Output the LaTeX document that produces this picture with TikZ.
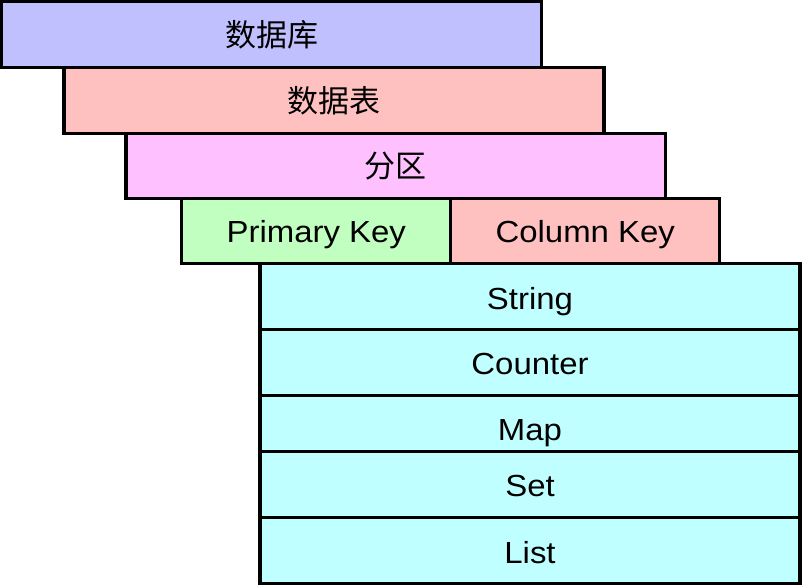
\documentclass[tikz,border=0pt]{standalone}
\usepackage{fontspec}
\setmainfont[FakeStretch=1.08]{Liberation Sans}
\newfontfamily\cjk{Noto Sans CJK SC}
\definecolor{cLav}{HTML}{C0C0FF}
\definecolor{cPink}{HTML}{FFC0C0}
\definecolor{cMag}{HTML}{FFC0FF}
\definecolor{cGreen}{HTML}{C0FFC0}
\definecolor{cCyan}{HTML}{C0FFFF}
\tikzset{
  layer/.style={draw=black, line width=3.3pt, rectangle, inner sep=0pt, outer sep=0pt,
    font=\fontsize{30.5}{34}\selectfont, text=black},
  cjklayer/.style={layer, font=\fontsize{31}{34}\selectfont\cjk},
}
\begin{document}
\begin{tikzpicture}[x=1pt,y=1pt]
\useasboundingbox (0,0) rectangle (802,-586);
\node[cjklayer, fill=cLav, minimum width=540pt, minimum height=65.8pt] (db) at (271.7,-34.6) {数据库};
\node[cjklayer, fill=cPink, minimum width=540pt, minimum height=65.8pt] (tbl) at (334,-100.4) {数据表};
\node[cjklayer, fill=cMag, minimum width=539.7pt, minimum height=65pt] (part) at (395.85,-165.8) {分区};
\node[layer, fill=cGreen, minimum width=269.1pt, text height=44pt, text depth=21.4pt] (pk) at (316.25,-231) {Primary Key};
\node[layer, fill=cPink, minimum width=268.9pt, text height=44pt, text depth=21.4pt] (ck) at (585.25,-231) {Column Key};
\node[layer, fill=cCyan, minimum width=540pt, text height=45.3pt, text depth=20.6pt] (str) at (530,-296.65) {String};
\node[layer, fill=cCyan, minimum width=540pt, text height=44.4pt, text depth=21.7pt] (cnt) at (530,-362.65) {Counter};
\node[layer, fill=cCyan, minimum width=540pt, text height=45pt, text depth=11pt] (map) at (530,-423.7) {Map};
\node[layer, fill=cCyan, minimum width=540pt, text height=45pt, text depth=21pt] (set) at (530,-484.7) {Set};
\node[layer, fill=cCyan, minimum width=540pt, text height=45.6pt, text depth=20pt] (list) at (530,-550.5) {List};
\end{tikzpicture}
\end{document}
